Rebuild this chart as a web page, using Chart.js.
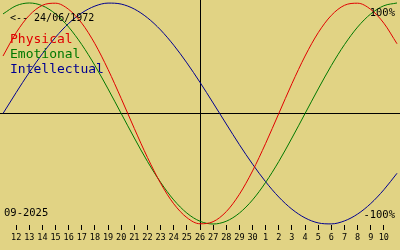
<!DOCTYPE html>
<html>
<head>
<meta charset="utf-8">
<script src="https://cdn.jsdelivr.net/npm/chart.js@4.4.0/dist/chart.umd.min.js"></script>
<style>
  html, body { margin: 0; padding: 0; background: #e1d384; }
  #bio { display: block; }
</style>
</head>
<body>
<canvas id="bio" width="400" height="250"></canvas>
<script>
// 日付ラベル (11/09 〜 11/10, 両端は非表示)
const days = ['11','12','13','14','15','16','17','18','19','20','21','22','23','24','25',
  '26','27','28','29','30','1','2','3','4','5','6','7','8','9','10','11'];

// バイオリズム値 (%)
const physical = [52.0, 73.1, 88.8, 97.9, 99.8, 94.2, 81.7, 63.1, 39.8, 13.6,
  -13.6, -39.8, -63.1, -81.7, -94.2, -99.8, -97.9, -88.8, -73.1, -52.0,
  -27.0, 0, 27.0, 52.0, 73.1, 88.8, 97.9, 99.8, 94.2, 81.7, 63.1];
const emotional = [90.1, 97.5, 100, 97.5, 90.1, 78.2, 62.3, 43.4, 22.2, 0,
  -22.2, -43.4, -62.3, -78.2, -90.1, -97.5, -100, -97.5, -90.1, -78.2,
  -62.3, -43.4, -22.2, 0, 22.2, 43.4, 62.3, 78.2, 90.1, 97.5, 100];
const intellectual = [0, 18.9, 37.2, 54.1, 69.0, 81.5, 91.0, 97.2, 99.9, 99.0,
  94.5, 86.6, 75.6, 61.8, 45.8, 28.2, 9.5, -9.5, -28.2, -45.8,
  -61.8, -75.6, -86.6, -94.5, -99.0, -99.9, -97.2, -91.0, -81.5, -69.0, -54.1];

const todayIndex = 15;
const birthText = '<-- 24/06/1972';
const monthText = '09-2025';

const MONO = '"DejaVu Sans Mono", monospace';

// 軸線
const axesPlugin = {
  id: 'axes',
  beforeDatasetsDraw(chart) {
    let ctx = chart.ctx;
    let area = chart.chartArea;
    let x = Math.round(chart.scales.x.getPixelForTick(todayIndex)) + 0.5;
    let y = Math.round(chart.scales.y.getPixelForValue(0)) + 0.5;
    ctx.save();
    ctx.strokeStyle = '#000';
    ctx.lineWidth = 1;
    ctx.beginPath();
    ctx.moveTo(0, y);
    ctx.lineTo(chart.width, y);
    ctx.moveTo(x, 0);
    ctx.lineTo(x, area.bottom);
    ctx.stroke();
    ctx.restore();
  }
};

// テキスト
const textPlugin = {
  id: 'texts',
  afterDatasetsDraw(chart) {
    let ctx = chart.ctx;
    ctx.save();
    ctx.textBaseline = 'alphabetic';

    ctx.font = '10px ' + MONO;
    ctx.fillStyle = '#000';
    ctx.textAlign = 'left';
    ctx.fillText(birthText, 10, 21);

    ctx.font = '13px ' + MONO;
    ctx.fillStyle = '#e00000';
    ctx.fillText('Physical', 10, 43);
    ctx.fillStyle = '#007800';
    ctx.fillText('Emotional', 10, 58);
    ctx.fillStyle = '#000090';
    ctx.fillText('Intellectual', 10, 73);

    ctx.font = '10.5px ' + MONO;
    ctx.fillStyle = '#000';
    ctx.fillText(monthText, 4, 216);
    ctx.textAlign = 'right';
    ctx.fillText('100%', 395, 16);
    ctx.fillText('-100%', 395, 218);
    ctx.restore();
  }
};

let chart = new Chart(document.getElementById('bio'), {
  type: 'line',
  data: {
    labels: days,
    datasets: [
      { label: 'Physical', data: physical, borderColor: '#e00000' },
      { label: 'Emotional', data: emotional, borderColor: '#007800' },
      { label: 'Intellectual', data: intellectual, borderColor: '#000090' }
    ]
  },
  options: {
    responsive: false,
    animation: false,
    devicePixelRatio: 1,
    layout: { padding: { top: 0, left: 0, right: 0, bottom: 3.8 } },
    datasets: {
      line: { clip: false, cubicInterpolationMode: 'monotone', borderWidth: 1, pointRadius: 0 }
    },
    scales: {
      x: {
        type: 'category',
        offset: false,
        border: { display: false },
        grid: {
          drawOnChartArea: false,
          drawTicks: true,
          tickLength: 5,
          tickColor: c => (c.index === 0 || c.index === days.length - 1) ? 'rgba(0,0,0,0)' : '#000'
        },
        ticks: {
          autoSkip: false,
          maxRotation: 0,
          minRotation: 0,
          padding: 3,
          color: '#000',
          font: { family: MONO, size: 8.5 },
          callback: (v, i) => (i === 0 || i === days.length - 1) ? '' : days[i]
        }
      },
      y: { display: false, min: -100.9, max: 102.7 }
    },
    plugins: {
      legend: { display: false },
      tooltip: { enabled: false }
    }
  },
  plugins: [axesPlugin, textPlugin]
});
</script>
</body>
</html>
